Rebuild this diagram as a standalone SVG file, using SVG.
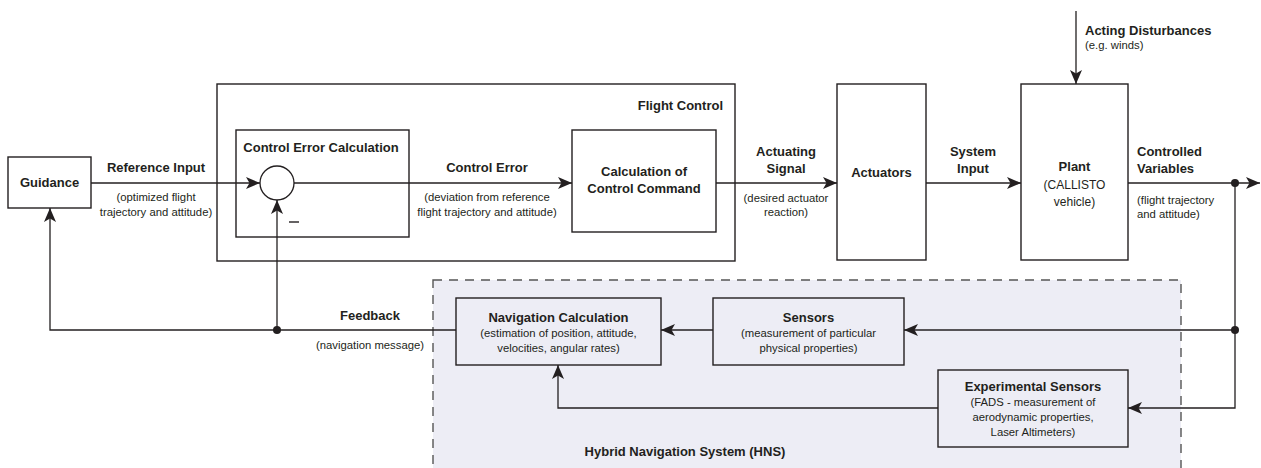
<svg xmlns="http://www.w3.org/2000/svg" width="1261" height="468" viewBox="0 0 1261 468">
<defs>
<marker id="ah" viewBox="0 0 14 12" refX="14" refY="6" markerWidth="14" markerHeight="12" orient="auto" markerUnits="userSpaceOnUse">
<path d="M0,0 L14,6 L0,12 L3.5,6 Z" fill="#231f20"/>
</marker>
<style>
.box{fill:none;stroke:#231f20;stroke-width:1.4}
.ln{fill:none;stroke:#231f20;stroke-width:1.3}
.arr{fill:none;stroke:#231f20;stroke-width:1.3;marker-end:url(#ah)}
.dot{fill:#231f20}
text{font-family:"Liberation Sans",Arial,sans-serif;fill:#231f20}
.b{font-weight:bold;font-size:13px}
.r{font-size:11.3px}
.m{font-size:12px}
.c{text-anchor:middle}
.e{text-anchor:end}
</style>
</defs>
<rect width="1261" height="468" fill="#ffffff"/>
<g id="hns">
<rect x="433" y="280" width="748" height="200" fill="#ededf5" stroke="#555555" stroke-width="1.4" stroke-dasharray="9,7"/>
<text class="b c" x="685" y="456">Hybrid Navigation System (HNS)</text>
</g>
<g id="flight-control">
<rect class="box" x="217" y="84" width="518" height="177"/>
<text class="b e" x="723" y="110">Flight Control</text>
</g>
<g id="guidance">
<rect class="box" x="8" y="157" width="83" height="51"/>
<text class="b c" x="49.5" y="187">Guidance</text>
</g>
<g id="control-error-calculation">
<rect class="box" x="236" y="130" width="173" height="107"/>
<text class="b c" x="321" y="152">Control Error Calculation</text>
<circle cx="277" cy="183" r="17" fill="#ffffff" stroke="#231f20" stroke-width="1.3"/>
<line x1="289" y1="222" x2="299" y2="222" stroke="#231f20" stroke-width="1.4"/>
</g>
<g id="calc-control-command">
<rect class="box" x="572" y="130" width="144" height="102"/>
<text class="b c" x="644" y="176">Calculation of</text>
<text class="b c" x="644" y="193">Control Command</text>
</g>
<g id="actuators">
<rect class="box" x="837" y="84" width="89" height="176"/>
<text class="b c" x="881.5" y="177">Actuators</text>
</g>
<g id="plant">
<rect class="box" x="1021" y="84" width="107" height="176"/>
<text class="b c" x="1074.5" y="171">Plant</text>
<text class="m c" x="1074.5" y="189">(CALLISTO</text>
<text class="m c" x="1074.5" y="206">vehicle)</text>
</g>
<g id="navigation-calculation">
<rect class="box" x="456" y="298" width="205" height="67"/>
<text class="b c" x="558.5" y="322">Navigation Calculation</text>
<text class="r c" x="558.5" y="337">(estimation of position, attitude,</text>
<text class="r c" x="558.5" y="352">velocities, angular rates)</text>
</g>
<g id="sensors">
<rect class="box" x="713" y="298" width="191" height="67"/>
<text class="b c" x="808.5" y="322">Sensors</text>
<text class="r c" x="808.5" y="337">(measurement of particular</text>
<text class="r c" x="808.5" y="352">physical properties)</text>
</g>
<g id="experimental-sensors">
<rect class="box" x="938" y="370" width="190" height="77"/>
<text class="b c" x="1033" y="391">Experimental Sensors</text>
<text class="r c" x="1033" y="406">(FADS - measurement of</text>
<text class="r c" x="1033" y="421">aerodynamic properties,</text>
<text class="r c" x="1033" y="436">Laser Altimeters)</text>
</g>
<g id="connectors">
<line class="arr" x1="91" y1="183" x2="260" y2="183"/>
<line class="arr" x1="294" y1="183" x2="572" y2="183"/>
<line class="arr" x1="716" y1="183" x2="837" y2="183"/>
<line class="arr" x1="926" y1="183" x2="1021" y2="183"/>
<line class="arr" x1="1128" y1="183" x2="1260" y2="183"/>
<line class="arr" x1="1076" y1="11" x2="1076" y2="84"/>
<polyline class="arr" points="1235,183 1235,408 1128,408"/>
<line class="arr" x1="1235" y1="330" x2="904" y2="330"/>
<line class="arr" x1="713" y1="330" x2="661" y2="330"/>
<polyline class="arr" points="938,408 558,408 558,365"/>
<polyline class="arr" points="456,330 50,330 50,208"/>
<line class="arr" x1="277" y1="330" x2="277" y2="200"/>
<circle class="dot" cx="277" cy="330" r="4"/>
<circle class="dot" cx="1235" cy="183" r="4"/>
<circle class="dot" cx="1235" cy="330" r="4"/>
</g>
<g id="labels">
<text class="b c" x="156" y="172">Reference Input</text>
<text class="r c" x="156" y="201">(optimized flight</text>
<text class="r c" x="156" y="216">trajectory and attitude)</text>
<text class="b c" x="487" y="172">Control Error</text>
<text class="r c" x="487" y="201">(deviation from reference</text>
<text class="r c" x="487" y="216">flight trajectory and attitude)</text>
<text class="b c" x="786" y="156">Actuating</text>
<text class="b c" x="786" y="173">Signal</text>
<text class="r c" x="786" y="202">(desired actuator</text>
<text class="r c" x="786" y="216">reaction)</text>
<text class="b c" x="973" y="156">System</text>
<text class="b c" x="973" y="173">Input</text>
<text class="b" x="1137" y="156">Controlled</text>
<text class="b" x="1137" y="173">Variables</text>
<text class="r" x="1137" y="204">(flight trajectory</text>
<text class="r" x="1137" y="218">and attitude)</text>
<text class="b" x="1085" y="35">Acting Disturbances</text>
<text class="r" x="1085" y="49">(e.g. winds)</text>
<text class="b c" x="370" y="320">Feedback</text>
<text class="r c" x="370" y="349">(navigation message)</text>
</g>
</svg>
